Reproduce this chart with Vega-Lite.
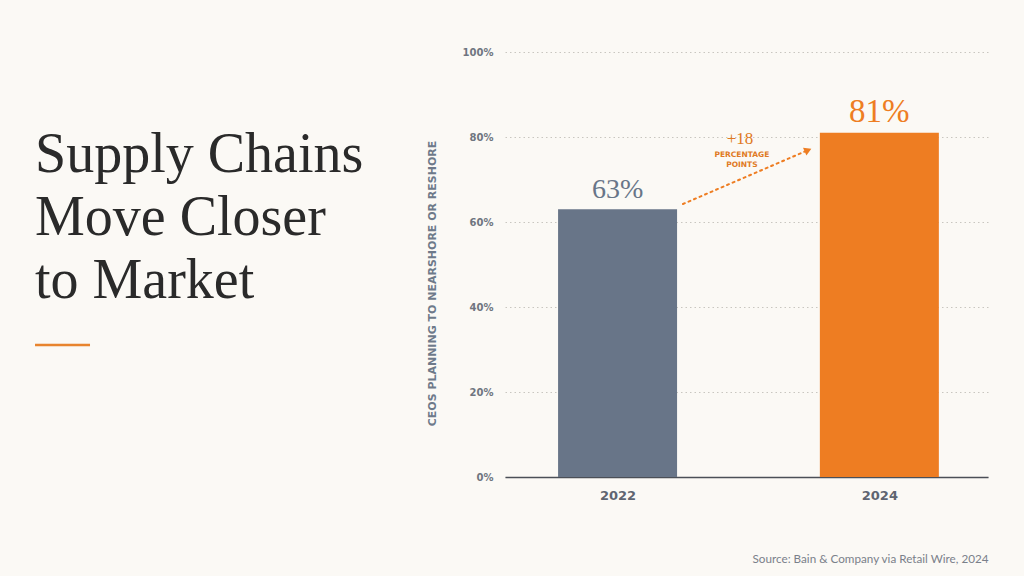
{
  "$schema": "https://vega.github.io/schema/vega-lite/v6.json",
  "width": 483,
  "height": 425,
  "autosize": {"type": "none"},
  "padding": {"left": 505, "top": 52, "right": 36, "bottom": 99},
  "background": "#FBF9F5",
  "config": {"view": {"stroke": null}, "font": "Lato"},
  "title": {
    "text": ["Supply Chains", "Move Closer", "to Market"],
    "anchor": "start",
    "frame": "group",
    "orient": "top",
    "offset": 0,
    "dx": -470,
    "dy": 263,
    "fontSize": 56,
    "font": "Liberation Serif",
    "fontWeight": "normal",
    "color": "#2A2A2A",
    "lineHeight": 63,
    "baseline": "top"
  },
  "data": {"values": [{"year": 2022, "pct": 63}, {"year": 2024, "pct": 81}]},
  "layer": [
    {
      "mark": {"type": "bar", "width": 119},
      "encoding": {
        "x": {
          "field": "year",
          "type": "quantitative",
          "scale": {"domain": [2021.14, 2024.83], "zero": false, "nice": false, "padding": 0},
          "axis": {
            "values": [2022, 2024],
            "format": "d",
            "ticks": false,
            "grid": false,
            "domain": true,
            "domainColor": "#4B4F57",
            "domainWidth": 1.3,
            "labelFont": "DejaVu Sans",
            "labelFontWeight": "bold",
            "labelFontSize": 13,
            "labelColor": "#5F6571",
            "labelPadding": 12,
            "title": "Source: Bain & Company via Retail Wire, 2024",
            "titleFont": "Lato",
            "titleFontWeight": "normal",
            "titleFontSize": 11.7,
            "titleColor": "#7A808A",
            "titleX": 483,
            "titleY": 85,
            "titleAlign": "right",
            "titleAnchor": "end",
            "titleBaseline": "alphabetic"
          }
        },
        "y": {
          "field": "pct",
          "type": "quantitative",
          "scale": {"domain": [0, 100], "nice": false, "padding": 0},
          "axis": {
            "values": [0, 20, 40, 60, 80, 100],
            "labelExpr": "datum.value + '%'",
            "ticks": false,
            "domain": false,
            "grid": true,
            "gridDash": [1.5, 3],
            "gridColor": "#C9C6C0",
            "gridWidth": 1,
            "labelFont": "DejaVu Sans",
            "labelFontWeight": "bold",
            "labelFontSize": 10,
            "labelColor": "#6F7580",
            "labelPadding": 12,
            "title": "CEOS PLANNING TO NEARSHORE OR RESHORE",
            "titleFont": "DejaVu Sans",
            "titleFontSize": 11,
            "titleFontWeight": "bold",
            "titleColor": "#6E7A8A",
            "titlePadding": 25,
            "titleY": 231
          }
        },
        "color": {
          "field": "year",
          "type": "nominal",
          "scale": {"domain": [2022, 2024], "range": ["#687588", "#EE7D22"]},
          "legend": null
        }
      }
    },
    {
      "transform": [{"calculate": "datum.pct + '%'", "as": "label"}],
      "mark": {"type": "text", "font": "Liberation Serif", "baseline": "alphabetic", "align": "center", "dy": -11},
      "encoding": {
        "x": {"field": "year", "type": "quantitative"},
        "y": {"field": "pct", "type": "quantitative"},
        "text": {"field": "label"},
        "color": {"field": "year", "type": "nominal", "legend": null},
        "size": {"condition": {"test": "datum.year == 2024", "value": 33}, "value": 28}
      }
    },
    {
      "data": {"values": [{}]},
      "mark": {"type": "rule", "color": "#EE7D22", "strokeWidth": 2, "strokeDash": [2, 4], "strokeCap": "round"},
      "encoding": {
        "x": {"datum": 2022.50},
        "y": {"datum": 64.24},
        "x2": {"datum": 2023.432},
        "y2": {"datum": 76.6}
      }
    },
    {
      "data": {"values": [{}]},
      "mark": {"type": "point", "shape": "triangle-right", "angle": 336, "filled": true, "opacity": 1, "color": "#EE7D22", "size": 70},
      "encoding": {
        "x": {"datum": 2023.455},
        "y": {"datum": 76.9}
      }
    },
    {
      "data": {"values": [{}]},
      "mark": {"type": "text", "text": "+18", "font": "Liberation Serif", "fontSize": 17, "color": "#E07A24", "align": "center", "baseline": "alphabetic"},
      "encoding": {
        "x": {"datum": 2022.935},
        "y": {"datum": 78.35}
      }
    },
    {
      "data": {"values": [{}]},
      "mark": {"type": "text", "text": ["PERCENTAGE", "POINTS"], "font": "DejaVu Sans", "fontWeight": "bold", "fontSize": 7.5, "lineHeight": 10, "color": "#E07A24", "align": "center", "baseline": "alphabetic"},
      "encoding": {
        "x": {"datum": 2022.95},
        "y": {"datum": 75.3}
      }
    },
    {
      "data": {"values": [{}]},
      "mark": {"type": "rule", "color": "#E8842E", "strokeWidth": 2.5},
      "encoding": {
        "x": {"datum": 2017.5495},
        "x2": {"datum": 2017.9696},
        "y": {"datum": 31.06}
      }
    }
  ]
}
